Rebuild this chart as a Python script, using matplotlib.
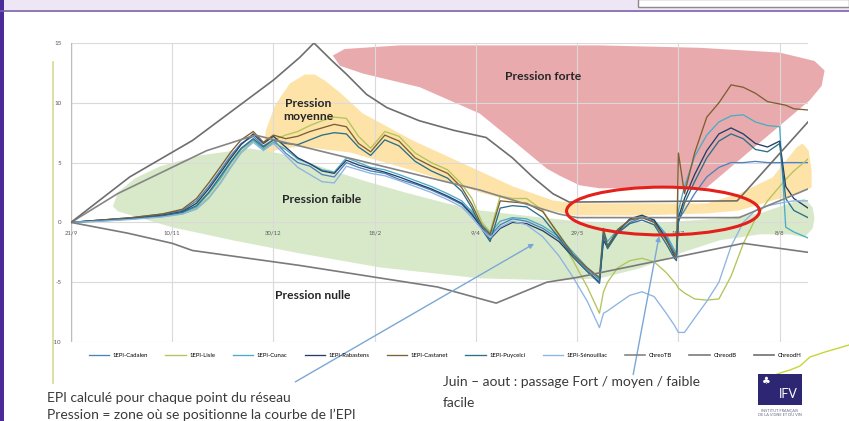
import matplotlib.pyplot as plt
from matplotlib.patches import Ellipse, Rectangle
from matplotlib.lines import Line2D

W, H = 849, 421

# jours depuis le 21/9
days = [0, 15, 30, 45, 55, 62, 68, 74, 79, 84,
        90, 95, 100, 106, 112, 118, 124, 130, 136, 142,
        148, 155, 162, 170, 178, 186, 193, 198, 203, 207,
        212, 218, 225, 233, 241, 248, 255, 261, 263, 265,
        270, 276, 282, 288, 294, 298, 299, 300, 303, 308,
        314, 320, 326, 332, 338, 344, 350, 353, 357, 364]

cadalen = [0, 0.2, 0.4, 0.7, 1.0, 1.8, 3.0, 4.4, 5.6, 6.6,
           7.2, 6.4, 6.9, 5.8, 5.0, 4.7, 4.0, 3.8, 5.0, 4.6,
           4.3, 4.1, 3.6, 3.2, 2.7, 2.1, 1.5, 0.6, -0.4, -1.1,
           -0.2, 0.3, 0.1, -0.5, -1.4, -2.7, -3.9, -4.8, -1.2, -1.9,
           -0.9, 0.0, 0.4, 0.1, -1.2, -2.5, -2.7, 0.2, 1.0, 2.4,
           3.8, 4.6, 5.0, 5.0, 5.1, 5.0, 5.0, 5.0, 5.0, 5.0]
lisle = [0, 0.1, 0.3, 0.5, 0.7, 1.2, 2.1, 3.4, 4.7, 5.9,
         6.8, 6.2, 6.9, 7.3, 7.6, 8.1, 8.5, 8.8, 8.7, 7.2,
         6.2, 7.6, 7.2, 5.8, 5.0, 4.4, 3.2, 2.0, 0.0, -0.8,
         2.2, 2.0, 2.0, 1.0, -1.2, -3.2, -5.4, -7.6, -5.8, -5.0,
         -3.8, -3.2, -3.0, -3.3, -4.2, -5.0, -5.2, -5.5, -5.9, -6.4,
         -6.5, -6.4, -4.5, -1.8, 0.3, 1.8, 3.0, 3.6, 4.3, 5.3]
cunac = [0, 0.15, 0.3, 0.5, 0.8, 1.3, 2.4, 3.7, 5.0, 6.1,
         6.9, 6.1, 6.7, 6.1, 5.3, 4.9, 4.4, 4.2, 5.4, 5.0,
         4.6, 4.4, 4.0, 3.5, 3.0, 2.4, 1.8, 0.9, -0.2, -0.9,
         0.1, 0.4, 0.3, -0.3, -1.2, -2.5, -3.8, -4.7, -0.8, -1.6,
         -0.6, 0.2, 0.5, 0.2, -1.0, -2.3, -2.6, 1.0, 3.0, 5.5,
         7.3, 8.4, 8.9, 9.0, 8.4, 8.1, 8.0, -0.4, -0.8, -1.3]
rabastens = [0, 0.2, 0.35, 0.6, 0.9, 1.6, 2.8, 4.2, 5.4, 6.5,
             7.4, 6.6, 7.2, 6.3, 5.4, 4.9, 4.3, 4.1, 5.2, 4.8,
             4.5, 4.2, 3.8, 3.3, 2.8, 2.2, 1.6, 0.7, -0.5, -1.4,
             -0.5, 0.0, -0.1, -0.7, -1.6, -2.9, -4.1, -5.0, -1.5, -2.1,
             -0.8, 0.3, 0.6, 0.2, -1.4, -2.8, -3.0, 0.4, 2.0, 4.0,
             6.0, 7.4, 7.9, 7.4, 6.6, 6.3, 6.8, 3.0, 2.0, 1.2]
castanet = [0, 0.2, 0.4, 0.7, 1.1, 2.0, 3.3, 4.7, 5.9, 6.9,
            7.6, 6.7, 7.3, 7.0, 7.2, 7.6, 7.9, 8.2, 8.0, 6.6,
            5.9, 7.3, 6.8, 5.4, 4.7, 4.1, 2.9, 1.5, -0.3, -1.0,
            1.8, 1.7, 1.6, 0.9, -1.0, -2.7, -3.8, -4.6, -0.5, -2.0,
            -0.6, 0.2, 0.4, 0.0, -1.5, -2.6, -2.8, 5.8, 2.4, 5.8,
            8.8, 10.0, 11.5, 11.3, 10.8, 10.1, 9.9, 9.8, 9.5, 9.4]
puycelci = [0, 0.15, 0.3, 0.55, 0.85, 1.4, 2.5, 3.9, 5.1, 6.2,
            7.0, 6.3, 6.9, 6.6, 6.5, 6.9, 7.3, 7.5, 7.4, 6.3,
            5.6, 6.9, 6.4, 5.1, 4.3, 3.7, 2.6, 1.2, -0.6, -1.6,
            1.2, 1.4, 1.3, 0.4, -1.3, -2.9, -4.1, -5.1, -1.0, -2.2,
            -0.9, -0.1, 0.2, -0.2, -1.8, -3.0, -3.2, 0.0, 1.6, 3.4,
            5.4, 6.8, 7.4, 7.0, 6.1, 5.9, 6.6, 2.0, 1.0, 0.4]
senouillac = [0, 0.1, 0.25, 0.45, 0.7, 1.1, 2.0, 3.3, 4.6, 5.8,
              6.7, 6.0, 6.6, 5.6, 4.6, 4.0, 3.4, 3.3, 4.7, 4.4,
              4.1, 3.9, 3.5, 3.0, 2.5, 1.9, 1.3, 0.4, -0.6, -1.3,
              -0.4, 0.1, -0.2, -1.2, -2.8, -4.6, -6.6, -8.8, -7.6, -7.4,
              -6.8, -6.1, -5.8, -6.2, -7.6, -8.6, -8.9, -9.2, -9.2, -8.0,
              -6.6, -5.0, -2.0, 0.0, 1.0, 1.4, 1.6, 1.7, 1.8, 1.8]

chreoTB_days = [0, 23, 67, 91, 202, 241, 250, 330, 364]
chreoTB = [0, 2.4, 6.0, 7.3, 2.7, 0.7, 0.4, 0.4, 2.8]
chreodB_days = [0, 28, 50, 60, 113, 181, 210, 235, 250, 332, 364]
chreodB = [0, -0.9, -1.75, -2.35, -3.6, -5.4, -6.75, -5.0, -4.6, -1.75, -2.5]
chreodH_days = [0, 29, 60, 100, 113, 120, 129, 136, 146, 156, 172, 189, 205,
                218, 228, 238, 246, 329, 364]
chreodH = [0, 3.8, 6.85, 11.9, 13.8, 15.0, 13.5, 12.4, 10.7, 9.6, 8.5, 7.7, 7.1,
           5.4, 3.8, 2.4, 1.7, 1.8, 8.4]

tick_days = [0, 50, 100, 150, 200, 250, 300, 350]
tick_labels = ['21/9', '10/11', '30/12', '18/2', '9/4', '29/5', '18/7', '8/8']
y_ticks = [15, 10, 5, 0, -5, -10]

# zones dessinees a la main
forte_x = [129.3, 135.2, 162.4, 211.8, 261.1, 310.5, 350.0, 367.2, 372.2, 370.7,
           364.8, 313.9, 261.1, 251.2, 241.4, 235.0, 218.2, 201.9, 172.3, 144.1, 132.8]
forte_y = [13.95, 14.5, 14.8, 14.8, 14.8, 14.6, 14.2, 13.5, 12.7, 11.4,
           10.2, 2.9, 2.85, 3.1, 3.9, 4.5, 6.85, 9.1, 11.3, 12.45, 13.1]
moyenne_x = [94.8, 96.3, 100.7, 108.1, 115.5, 120.4, 125.4, 132.8, 144.1, 168.8,
             193.5, 218.2, 237.9, 248.8, 280.9, 313.9, 330.2, 346.5, 358.4, 361.3,
             364.3, 365.8, 365.8, 359.8, 346.5, 330.2, 313.9, 280.9, 248.8, 231.5,
             201.9, 168.8, 137.7, 113.0, 100.7, 95.8]
moyenne_y = [5.85, 7.69, 9.77, 11.61, 12.36, 12.36, 11.86, 10.86, 9.11, 6.85,
             4.93, 3.01, 1.84, 1.59, 1.59, 1.59, 2.42, 3.76, 6.27, 6.6,
             6.02, 4.34, 2.92, 2.42, 1.84, 1.0, 0.75, 0.58, 0.58, 1.17,
             2.51, 4.34, 5.85, 6.35, 6.02, 5.51]
faible_x = [20.7, 23.2, 31.6, 43.9, 63.7, 88.4, 103.2, 122.9, 144.1, 164.9,
            185.6, 201.9, 231.5, 251.2, 285.8, 320.3, 340.1, 354.9, 362.3, 366.3,
            367.2, 366.3, 362.3, 354.9, 340.1, 320.3, 300.6, 280.9, 261.1, 241.4,
            201.9, 152.5, 113.0, 80.0, 50.3, 31.6, 23.2]
faible_y = [1.34, 2.51, 3.68, 4.68, 5.6, 6.18, 5.76, 4.68, 3.51, 2.51,
            1.59, 1.0, 0.42, 0.08, -0.08, 0.33, 0.75, 1.59, 2.0, 1.25,
            0.33, -0.5, -1.25, -1.0, -1.0, -1.5, -2.59, -3.84, -4.68, -4.85,
            -4.68, -3.76, -2.59, -1.5, -0.42, 0.5, 0.92]

plt.rcParams['font.family'] = ['Lato', 'DejaVu Sans']

fig = plt.figure(figsize=(W / 100, H / 100), dpi=100)
ax = fig.add_axes([71 / W, 79 / H, 737 / W, 299 / H])
ax.set_xlim(0, 364)
ax.set_ylim(-10, 15)
for s in ax.spines.values():
    s.set_visible(False)
ax.set_xticks([])
ax.set_yticks(y_ticks)
ax.set_yticklabels([str(v) for v in y_ticks], fontsize=4.5, color='#595959')
ax.tick_params(axis='y', length=0, pad=7)

# zones
ax.fill(forte_x, forte_y, color='#e9aaad', lw=0, zorder=1, clip_on=False)
ax.fill(moyenne_x, moyenne_y, color='#fde3a8', lw=0, zorder=1, clip_on=False)
ax.fill(faible_x, faible_y, color='#d8e9c9', lw=0, zorder=1, clip_on=False)

for y in y_ticks:
    ax.axhline(y, color='#dadada', lw=0.8, zorder=2)
for d in tick_days:
    ax.axvline(d, color='#dadada', lw=0.8, zorder=2)
ax.axvline(0, color='#bdbdbd', lw=1, zorder=2)
for d, lab in zip(tick_days, tick_labels):
    ax.text(d, -0.85, lab, ha='center', va='center', fontsize=4.3, color='#595959', zorder=2)

series = [
    ('1EPI-Cadalen', cadalen, '#4f81bd'),
    ('1EPI-Lisle', lisle, '#b1c55a'),
    ('1EPI-Cunac', cunac, '#4bacc6'),
    ('1EPI-Rabastens', rabastens, '#243f66'),
    ('1EPI-Castanet', castanet, '#7d5f32'),
    ('1EPI-Puycelci', puycelci, '#2b6f88'),
    ('1EPI-Sénouillac', senouillac, '#8db4e2'),
]
for name, vals, col in series:
    ax.plot(days, vals, color=col, lw=0.95, label=name, zorder=3)
ax.plot(chreoTB_days, chreoTB, color='#858585', lw=1.2, label='ChreoTB', zorder=3)
ax.plot(chreodB_days, chreodB, color='#7a7a7a', lw=1.2, label='ChreodB', zorder=3)
ax.plot(chreodH_days, chreodH, color='#6e6e6e', lw=1.2, label='ChreodH', zorder=3)

# noms des zones
lab = dict(ha='center', va='center', fontsize=8.7, fontweight='bold', color='#262626', zorder=6)
ax.text(233, 12.2, 'Pression forte', **lab)
ax.text(117, 9.4, 'Pression\nmoyenne', linespacing=1.25, **lab)
ax.text(124, 1.9, 'Pression faible', **lab)
ax.text(119.5, -6.1, 'Pression nulle', **lab)

ax.add_patch(Ellipse((292.4, 0.95), 95.3, 4.0, fill=False, ec='#e3201c', lw=2.2, zorder=6))

arrow = dict(arrowstyle='-|>', color='#7ba7d4', lw=1, mutation_scale=7)
ax.annotate('', xy=(229.9, -1.67), xytext=(109.6, -13.45), arrowprops=arrow,
            annotation_clip=False, zorder=6)
ax.annotate('', xy=(290.7, -0.92), xytext=(277.4, -12.95), arrowprops=arrow,
            annotation_clip=False, zorder=6)

fig.legend(loc='center', bbox_to_anchor=(445 / W, 1 - 355 / H), ncol=10, fontsize=4.3,
           frameon=False, handlelength=3.4, columnspacing=2.9, handletextpad=0.6)

# texte de la diapo
txt = dict(fontsize=10, color='#3a3a3a', va='center')
fig.text(47 / W, 1 - 398 / H, 'EPI calculé pour chaque point du réseau', **txt)
fig.text(47 / W, 1 - 415 / H, 'Pression = zone où se positionne la courbe de l\u2019EPI', **txt)
fig.text(443 / W, 1 - 382 / H, 'Juin \u2013 aout : passage Fort / moyen / faible', **txt)
fig.text(443 / W, 1 - 403 / H, 'facile', **txt)

# cadre de la diapo
fig.patches.append(Rectangle((0, 1 - 10 / H), 1, 10 / H, transform=fig.transFigure,
                             fc='#efe6f5', ec='none', zorder=0))
fig.add_artist(Line2D([0, 1], [1 - 10.5 / H] * 2, color='#7b5ea8', lw=1.2))
fig.patches.append(Rectangle((0, 0), 4 / W, 1, transform=fig.transFigure,
                             fc='#4b2b9b', ec='none', zorder=0))
fig.patches.append(Rectangle((638 / W, 1 - 7 / H), 211 / W, 8 / H, transform=fig.transFigure,
                             fc='white', ec='#8a8a8a', lw=1, zorder=1))
fig.add_artist(Line2D([53 / W] * 2, [1 - 62 / H, 1 - 383 / H], color='#d6dc8c', lw=1.2))

# logo IFV
fig.add_artist(Line2D([x / W for x in (762, 770, 780, 790, 800, 810, 825, 849)],
                      [1 - y / H for y in (382, 377, 373, 370, 366, 357, 352, 345)],
                      color='#c9d43a', lw=1))
fig.patches.append(Rectangle((758 / W, 1 - 405 / H), 44 / W, 31 / H, transform=fig.transFigure,
                             fc='#2d2672', ec='none', zorder=2))
fig.text(788 / W, 1 - 394 / H, 'IFV', color='white', fontsize=9, ha='center', va='center', zorder=3)
fig.text(766 / W, 1 - 381 / H, '\u2663', color='white', fontsize=7, ha='center', va='center',
         family='DejaVu Sans', zorder=3)
fig.text(780 / W, 1 - 413 / H, 'INSTITUT FRANÇAIS\nDE LA VIGNE ET DU VIN', color='#6b6b8a',
         fontsize=2.8, ha='center', va='center', linespacing=1.1)

fig.savefig('out.png', dpi=100)
